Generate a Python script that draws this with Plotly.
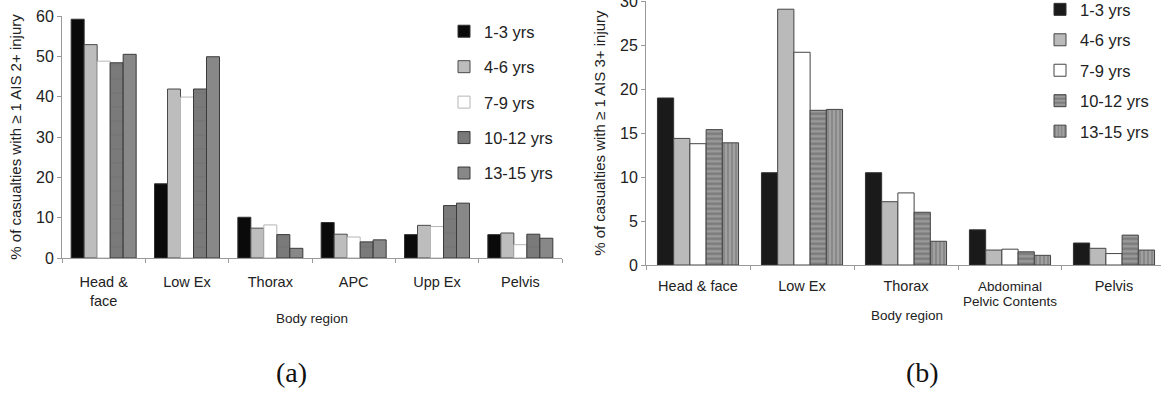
import plotly.graph_objects as go

# Body regions and injury shares by age band
regions_a = ["Head &<br>face", "Low Ex", "Thorax", "APC", "Upp Ex", "Pelvis"]
regions_b = ["Head & face", "Low Ex", "Thorax", "Abdominal<br>Pelvic Contents", "Pelvis"]
age_groups = ["1-3 yrs", "4-6 yrs", "7-9 yrs", "10-12 yrs", "13-15 yrs"]

# (a) % of casualties with >= 1 AIS 2+ injury
ais2_1_3 = [59.2, 18.4, 10.1, 8.8, 5.8, 5.8]
ais2_4_6 = [52.9, 41.9, 7.4, 5.9, 8.1, 6.2]
ais2_7_9 = [48.8, 39.9, 8.2, 5.2, 7.8, 3.3]
ais2_10_12 = [48.4, 41.9, 5.8, 4.0, 13.0, 5.9]
ais2_13_15 = [50.5, 49.9, 2.4, 4.5, 13.6, 4.9]

# (b) % of casualties with >= 1 AIS 3+ injury
ais3_1_3 = [19.0, 10.5, 10.5, 4.0, 2.5]
ais3_4_6 = [14.4, 29.1, 7.2, 1.7, 1.9]
ais3_7_9 = [13.8, 24.2, 8.2, 1.8, 1.3]
ais3_10_12 = [15.4, 17.6, 6.0, 1.5, 3.4]
ais3_13_15 = [13.9, 17.7, 2.7, 1.1, 1.7]

W, H = 1161, 394
FONT = "Liberation Sans, Arial, sans-serif"
TXT = "#222222"

series_a = [ais2_1_3, ais2_4_6, ais2_7_9, ais2_10_12, ais2_13_15]
series_b = [ais3_1_3, ais3_4_6, ais3_7_9, ais3_10_12, ais3_13_15]

style_a = [
    dict(color="#0a0a0a", line=dict(color="#333333", width=1)),
    dict(color="#bdbdbd", line=dict(color="#4a4a4a", width=1)),
    dict(color="#ffffff", line=dict(color="#b5b5b5", width=1)),
    dict(color="#7a7a7a", line=dict(color="#3a3a3a", width=1),
         pattern=dict(shape="-", fgcolor="#6a6a6a", bgcolor="#7a7a7a", size=14, solidity=0.08)),
    dict(color="#888888", line=dict(color="#3a3a3a", width=1)),
]
style_b = [
    dict(color="#1a1a1a", line=dict(color="#333333", width=1)),
    dict(color="#bababa", line=dict(color="#444444", width=1)),
    dict(color="#ffffff", line=dict(color="#444444", width=1)),
    dict(color="#8c8c8c", line=dict(color="#444444", width=1),
         pattern=dict(shape="-", fgcolor="#555555", bgcolor="#9a9a9a", size=5, solidity=0.45)),
    dict(color="#8c8c8c", line=dict(color="#444444", width=1),
         pattern=dict(shape="|", fgcolor="#666666", bgcolor="#a0a0a0", size=4, solidity=0.4)),
]


# Tick text sizes: one-line names at 14.5px, the two-line name at 13.5px on tight lines
def sized(label):
    px = 13.5 if "<br>" in label else 14.5
    return "<br>".join(f"<span style='font-size:{px}px'>{part}</span>"
                       for part in label.split("<br>"))


ticktext_b = [sized(r) for r in regions_b]

fig = go.Figure()
for name, vals, st in zip(age_groups, series_a, style_a):
    fig.add_trace(go.Bar(x=regions_a, y=vals, name=name, marker=st,
                         xaxis="x", yaxis="y", legend="legend",
                         legendgroup="a" + name))
for name, vals, st in zip(age_groups, series_b, style_b):
    fig.add_trace(go.Bar(x=regions_b, y=vals, name=name, marker=st,
                         xaxis="x2", yaxis="y2", legend="legend2",
                         legendgroup="b" + name))

axis_common = dict(showline=True, linecolor="#9a9a9a", linewidth=1,
                   showgrid=False, zeroline=False, automargin=False)
ytick_font = dict(family=FONT, size=16, color=TXT)
ytitle_font = dict(family=FONT, size=15, color=TXT)
xtitle_font = dict(family=FONT, size=13.5, color=TXT)
serif = "Liberation Serif, Times New Roman, serif"

fig.update_layout(
    width=W, height=H,
    margin=dict(l=0, r=0, t=0, b=0, autoexpand=False),
    paper_bgcolor="white", plot_bgcolor="white",
    barmode="group", bargap=0.22, bargroupgap=0,
    font=dict(family=FONT, color=TXT),
    xaxis=dict(domain=[62 / W, 562 / W], range=[-0.5, 5.5], anchor="y",
               ticks="outside", tickson="boundaries", ticklen=4, tickcolor="#9a9a9a",
               tickfont=dict(family=FONT, size=14.5, color=TXT), ticklabelstandoff=11,
               **axis_common),
    yaxis=dict(domain=[(H - 258) / H, (H - 16) / H], range=[0, 60], anchor="x",
               dtick=10, ticks="outside", ticklen=4, tickcolor="#9a9a9a",
               tickfont=ytick_font, ticklabeloverflow="allow",
               title=dict(text="% of casualties with ≥ 1 AIS 2+ injury",
                          font=ytitle_font, standoff=10),
               **axis_common),
    xaxis2=dict(domain=[646 / W, 1.0], range=[-0.5, 4.452], anchor="y2",
                ticks="outside", tickson="boundaries", ticklen=4, tickcolor="#9a9a9a",
                tickfont=dict(family=FONT, size=11.5, color=TXT), ticklabelstandoff=11,
                tickmode="array", tickvals=regions_b, ticktext=ticktext_b,
                **axis_common),
    yaxis2=dict(domain=[(H - 265) / H, (H - 1.3) / H], range=[0, 30], anchor="x2",
                dtick=5, ticks="outside", ticklen=4, tickcolor="#9a9a9a",
                tickfont=ytick_font, ticklabeloverflow="allow",
                title=dict(text="% of casualties with ≥ 1 AIS 3+ injury",
                           font=ytitle_font, standoff=10),
                **axis_common),
    legend=dict(x=444 / W, y=1 - 14 / H, xanchor="left", yanchor="top",
                traceorder="grouped", tracegroupgap=11,
                font=dict(family=FONT, size=16.5, color=TXT), bgcolor="rgba(0,0,0,0)"),
    legend2=dict(x=1040 / W, y=1.02, xanchor="left", yanchor="top",
                 traceorder="grouped", tracegroupgap=6,
                 font=dict(family=FONT, size=16.5, color=TXT), bgcolor="rgba(0,0,0,0)"),
    annotations=[
        dict(text="Body region", x=312 / W, y=1 - 318 / H, xref="paper", yref="paper",
             xanchor="center", yanchor="middle", showarrow=False, font=xtitle_font),
        dict(text="Body region", x=907 / W, y=1 - 315 / H, xref="paper", yref="paper",
             xanchor="center", yanchor="middle", showarrow=False, font=xtitle_font),
        dict(text="(a)", x=291 / W, y=1 - 372 / H, xref="paper", yref="paper",
             xanchor="center", yanchor="middle", showarrow=False,
             font=dict(family=serif, size=28, color="#111111")),
        dict(text="(b)", x=922 / W, y=1 - 372 / H, xref="paper", yref="paper",
             xanchor="center", yanchor="middle", showarrow=False,
             font=dict(family=serif, size=28, color="#111111")),
    ],
)

fig.write_html("out.html")
